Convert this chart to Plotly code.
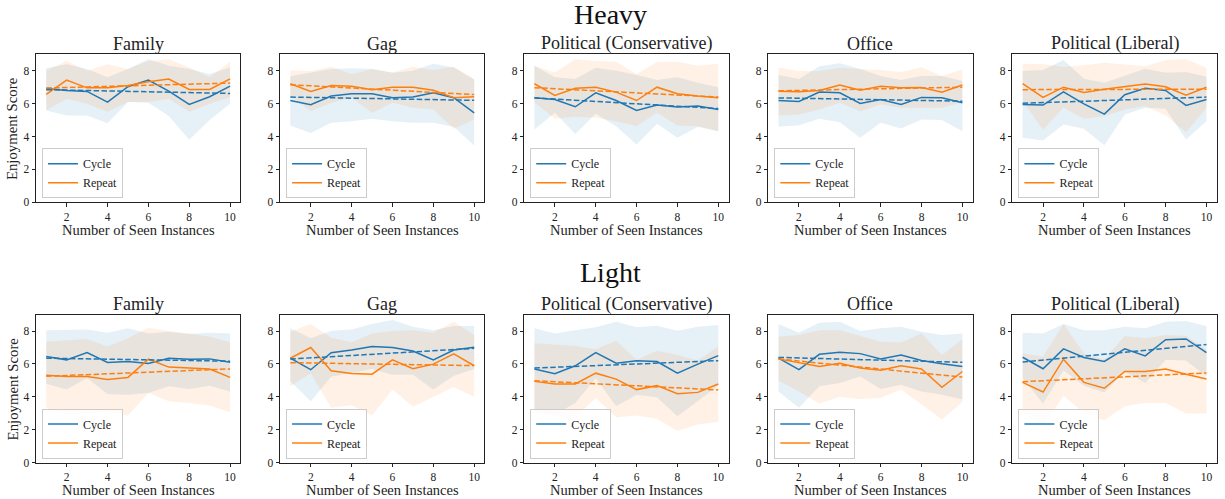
import plotly.graph_objects as go

# ---------------- data ----------------
categories = ["Family", "Gag", "Political (Conservative)", "Office", "Political (Liberal)"]
row_titles = ["Heavy", "Light"]
instances = [1, 2, 3, 4, 5, 6, 7, 8, 9, 10]
x_tick_vals = [2, 4, 6, 8, 10]
y_tick_vals = [0, 2, 4, 6, 8]
series_names = ["Cycle", "Repeat"]
x_label = "Number of Seen Instances"
y_label = "Enjoyment Score"

# Heavy row
heavy_cycle_mean = [
    [6.92, 6.80, 6.74, 6.09, 7.03, 7.43, 6.76, 5.95, 6.42, 7.07],
    [6.19, 5.93, 6.46, 6.60, 6.60, 6.36, 6.40, 6.66, 6.36, 5.44],
    [6.36, 6.25, 5.81, 6.66, 6.19, 5.58, 5.91, 5.79, 5.85, 5.64],
    [6.19, 6.13, 6.70, 6.66, 6.01, 6.25, 5.95, 6.38, 6.36, 6.05],
    [5.95, 5.91, 6.72, 5.99, 5.36, 6.54, 6.94, 6.80, 5.89, 6.25],
]
heavy_cycle_low = [
    [5.58, 5.28, 5.28, 4.80, 6.10, 6.05, 5.25, 3.80, 5.00, 6.00],
    [4.67, 4.22, 4.83, 4.93, 5.08, 4.93, 4.83, 4.83, 4.60, 3.45],
    [4.43, 5.44, 4.16, 5.38, 4.63, 3.51, 4.77, 3.92, 4.59, 4.32],
    [4.59, 4.69, 5.08, 4.87, 3.92, 4.83, 4.49, 5.04, 5.00, 4.32],
    [3.92, 3.76, 4.73, 4.47, 3.47, 5.34, 5.75, 5.69, 3.82, 4.93],
]
heavy_cycle_high = [
    [8.15, 8.40, 8.10, 7.60, 8.10, 8.70, 8.30, 8.10, 7.80, 8.20],
    [7.67, 7.90, 8.10, 8.15, 8.10, 7.88, 8.00, 8.43, 8.20, 7.47],
    [8.30, 7.60, 7.50, 8.18, 8.00, 7.74, 7.43, 7.60, 7.27, 7.00],
    [7.74, 7.50, 8.28, 8.45, 8.10, 7.68, 7.43, 7.68, 7.68, 7.37],
    [7.98, 8.04, 8.65, 7.51, 7.27, 7.68, 8.12, 7.88, 7.92, 7.63],
]
heavy_repeat_mean = [
    [6.56, 7.43, 6.96, 6.96, 7.10, 7.33, 7.50, 6.86, 6.86, 7.51],
    [7.21, 6.74, 7.10, 7.05, 6.84, 7.00, 7.00, 6.82, 6.36, 6.42],
    [7.21, 6.50, 6.94, 7.00, 6.70, 6.19, 7.00, 6.60, 6.46, 6.36],
    [6.76, 6.72, 6.80, 7.13, 6.82, 7.05, 6.96, 6.98, 6.70, 7.13],
    [7.21, 6.38, 7.00, 6.68, 6.88, 7.03, 7.19, 7.03, 6.52, 7.00],
]
heavy_repeat_low = [
    [5.60, 6.30, 6.00, 5.50, 6.10, 6.10, 6.30, 5.50, 6.00, 6.40],
    [6.46, 5.54, 6.05, 6.36, 5.44, 6.05, 5.75, 5.64, 4.47, 5.04],
    [6.09, 5.08, 5.20, 5.14, 4.93, 4.63, 5.44, 4.67, 4.63, 4.32],
    [5.28, 5.34, 5.64, 6.05, 5.54, 5.95, 5.75, 5.75, 5.75, 6.09],
    [6.15, 4.43, 5.75, 5.08, 5.24, 5.64, 5.85, 5.28, 4.26, 5.75],
]
heavy_repeat_high = [
    [8.00, 8.60, 8.00, 8.40, 8.10, 8.60, 8.70, 8.20, 7.60, 8.55],
    [8.02, 7.98, 8.24, 7.78, 8.10, 7.90, 8.24, 8.04, 8.24, 7.50],
    [8.30, 7.90, 8.70, 8.60, 8.55, 7.78, 8.53, 8.55, 8.30, 8.43],
    [8.18, 7.98, 7.98, 8.18, 8.10, 8.04, 7.92, 8.22, 7.68, 8.08],
    [8.43, 8.39, 8.24, 8.33, 8.49, 8.39, 8.28, 8.65, 8.70, 8.18],
]
heavy_cycle_trend = [[6.85, 6.62], [6.40, 6.20], [6.35, 5.70], [6.35, 6.15], [6.02, 6.40]]
heavy_repeat_trend = [[6.95, 7.25], [7.15, 6.55], [6.97, 6.40], [6.78, 7.00], [6.85, 6.88]]

# Light row
light_cycle_mean = [
    [6.45, 6.25, 6.69, 6.09, 6.15, 6.03, 6.35, 6.29, 6.31, 6.11],
    [6.35, 5.65, 6.69, 6.85, 7.06, 7.00, 6.79, 6.25, 6.85, 7.02],
    [5.69, 5.40, 5.89, 6.69, 6.05, 6.19, 6.15, 5.44, 5.99, 6.51],
    [6.35, 5.65, 6.59, 6.71, 6.63, 6.31, 6.55, 6.21, 6.01, 5.85],
    [6.41, 5.71, 6.92, 6.39, 6.15, 6.92, 6.49, 7.48, 7.52, 6.69],
]
light_cycle_low = [
    [4.80, 4.44, 5.14, 4.17, 4.13, 4.23, 4.64, 4.48, 4.68, 4.33],
    [4.94, 3.73, 5.24, 5.44, 5.69, 5.34, 5.34, 4.44, 5.28, 5.69],
    [3.17, 2.92, 3.63, 5.14, 3.43, 4.13, 3.97, 2.82, 3.73, 4.68],
    [4.33, 3.33, 4.64, 4.84, 5.24, 4.48, 4.74, 4.33, 4.13, 3.83],
    [5.14, 3.59, 5.60, 4.68, 4.27, 5.54, 4.84, 6.25, 6.21, 5.24],
]
light_cycle_high = [
    [8.06, 8.06, 8.10, 7.90, 8.17, 7.86, 7.96, 7.82, 7.90, 7.86],
    [8.17, 7.56, 8.02, 8.10, 8.43, 8.67, 8.27, 8.06, 8.31, 8.31],
    [8.17, 7.86, 8.06, 8.23, 8.57, 8.23, 8.33, 8.02, 8.27, 8.37],
    [8.43, 7.90, 8.51, 8.57, 8.00, 8.17, 8.27, 7.96, 7.76, 7.86],
    [7.90, 7.86, 8.43, 8.06, 8.06, 8.27, 8.17, 8.57, 8.61, 8.31],
]
light_repeat_mean = [
    [5.32, 5.24, 5.24, 5.06, 5.18, 6.29, 5.81, 5.75, 5.69, 5.18],
    [6.35, 7.00, 5.58, 5.42, 5.38, 6.25, 5.71, 5.99, 6.61, 5.89],
    [4.94, 4.78, 4.78, 5.44, 5.08, 4.44, 4.68, 4.19, 4.27, 4.78],
    [6.31, 6.09, 5.85, 6.05, 5.75, 5.62, 5.89, 5.69, 4.58, 5.54],
    [4.88, 4.29, 6.29, 4.88, 4.52, 5.54, 5.54, 5.69, 5.38, 5.08],
]
light_repeat_low = [
    [3.33, 2.92, 3.02, 3.06, 2.86, 4.23, 3.73, 3.63, 3.47, 3.06],
    [4.64, 5.44, 3.33, 3.49, 2.86, 4.44, 3.39, 3.99, 4.60, 3.99],
    [3.02, 2.82, 2.78, 3.93, 2.76, 2.86, 2.66, 1.92, 2.32, 2.48],
    [5.00, 4.33, 3.59, 3.99, 3.87, 3.93, 4.44, 3.53, 2.62, 3.67],
    [3.02, 2.22, 4.07, 3.02, 2.58, 3.43, 3.63, 3.63, 2.98, 2.98],
]
light_repeat_high = [
    [7.36, 7.46, 7.52, 7.06, 7.56, 8.21, 8.00, 7.86, 7.66, 7.32],
    [7.96, 8.43, 7.60, 7.32, 7.86, 8.00, 8.06, 7.90, 8.57, 7.76],
    [7.26, 7.20, 7.10, 6.90, 7.42, 6.25, 6.81, 6.55, 6.21, 7.06],
    [7.66, 7.76, 8.06, 8.06, 7.70, 7.36, 7.30, 7.86, 6.55, 7.50],
    [6.65, 6.45, 8.43, 6.65, 6.29, 7.70, 7.56, 7.76, 7.70, 6.90],
]
light_cycle_trend = [[6.35, 6.17], [6.30, 6.95], [5.75, 6.20], [6.40, 6.10], [6.12, 7.18]]
light_repeat_trend = [[5.25, 5.70], [6.08, 5.90], [4.98, 4.42], [6.30, 5.20], [4.92, 5.45]]

# ---------------- styling ----------------
FONT = "Liberation Serif"
W, H = 1225, 499
BLUE = "#1f77b4"
ORANGE = "#ff7f0e"
BLUE_FILL = "rgba(31,119,180,0.11)"
ORANGE_FILL = "rgba(255,127,14,0.11)"

ax_left0 = 36.0
ax_step = 244.1
ax_w = 204.3
row_tops = [54.3, 314.7]
row_bottoms = [202.3, 462.5]

fig = go.Figure()
annotations = []

rows_data = [
    (heavy_cycle_mean, heavy_cycle_low, heavy_cycle_high, heavy_repeat_mean,
     heavy_repeat_low, heavy_repeat_high, heavy_cycle_trend, heavy_repeat_trend),
    (light_cycle_mean, light_cycle_low, light_cycle_high, light_repeat_mean,
     light_repeat_low, light_repeat_high, light_cycle_trend, light_repeat_trend),
]

layout_axes = {}
k = 0
for r in range(2):
    cm, cl, ch, rm, rl, rh, ct, rt = rows_data[r]
    y0 = 1 - row_bottoms[r] / H
    y1 = 1 - row_tops[r] / H
    for c in range(5):
        k += 1
        xa = "x" if k == 1 else f"x{k}"
        ya = "y" if k == 1 else f"y{k}"
        lg = "legend" if k == 1 else f"legend{k}"
        left = ax_left0 + c * ax_step
        x0 = left / W
        x1 = (left + ax_w) / W

        # bands
        for lo, hi, col in ((cl[c], ch[c], BLUE_FILL), (rl[c], rh[c], ORANGE_FILL)):
            fig.add_trace(go.Scatter(
                x=instances + instances[::-1], y=hi + lo[::-1], fill="toself",
                fillcolor=col, line=dict(width=0), mode="lines", hoverinfo="skip",
                showlegend=False, xaxis=xa, yaxis=ya))
        # mean lines
        for name, vals, col in ((series_names[0], cm[c], BLUE), (series_names[1], rm[c], ORANGE)):
            fig.add_trace(go.Scatter(
                x=instances, y=vals, mode="lines", name=name,
                line=dict(color=col, width=1.5), xaxis=xa, yaxis=ya,
                legend=lg, showlegend=True))
        # trend lines
        for tr, col in ((ct[c], BLUE), (rt[c], ORANGE)):
            fig.add_trace(go.Scatter(
                x=[instances[0], instances[-1]], y=tr, mode="lines",
                line=dict(color=col, width=1.5, dash="5.5px,2.4px"),
                showlegend=False, xaxis=xa, yaxis=ya))

        common = dict(showline=True, mirror=True, linecolor="#222", linewidth=1,
                      ticks="outside", ticklen=3.5, tickwidth=0.8, tickcolor="#222",
                      showgrid=False, zeroline=False, automargin=False,
                      tickfont=dict(family=FONT, size=11.5, color="#222"))
        layout_axes["xaxis" if k == 1 else f"xaxis{k}"] = dict(
            domain=[x0, x1], range=[0.5, 10.5], tickvals=x_tick_vals,
            anchor=ya, **common)
        layout_axes["yaxis" if k == 1 else f"yaxis{k}"] = dict(
            domain=[y0, y1], range=[0, 9], tickvals=y_tick_vals,
            anchor=xa, **common)

        layout_axes[lg] = dict(
            x=(left + 6.0) / W, y=1 - (row_bottoms[r] - 4.0) / H,
            xanchor="left", yanchor="bottom",
            bgcolor="rgba(255,255,255,0.85)", bordercolor="#cccccc", borderwidth=1,
            font=dict(family=FONT, size=12, color="#222"),
            tracegroupgap=0, itemwidth=30)

        # subplot title
        annotations.append(dict(
            text=categories[c], x=(left + ax_w / 2) / W, y=1 - (row_tops[r] - 10.6) / H,
            xref="paper", yref="paper", xanchor="center", yanchor="middle",
            showarrow=False, font=dict(family=FONT, size=18, color="#222")))
        # x axis title
        annotations.append(dict(
            text=x_label, x=(left + ax_w / 2) / W, y=1 - (row_bottoms[r] + 27.5) / H,
            xref="paper", yref="paper", xanchor="center", yanchor="middle",
            showarrow=False, font=dict(family=FONT, size=14.5, color="#222")))
        if c == 0:
            annotations.append(dict(
                text=y_label, x=12.8 / W, y=1 - ((row_tops[r] + row_bottoms[r]) / 2) / H,
                xref="paper", yref="paper", xanchor="center", yanchor="middle",
                textangle=-90, showarrow=False,
                font=dict(family=FONT, size=14.8, color="#222")))

for r, t in enumerate(row_titles):
    annotations.append(dict(
        text=t, x=610 / W, y=1 - (14 + r * 258) / H, xref="paper", yref="paper",
        xanchor="center", yanchor="middle", showarrow=False,
        font=dict(family=FONT, size=28, color="#111")))

fig.update_layout(
    width=W, height=H, margin=dict(l=0, r=0, t=0, b=0, autoexpand=False),
    paper_bgcolor="white", plot_bgcolor="white",
    annotations=annotations, **layout_axes)

fig.write_html("out.html",
               config={"displayModeBar": False},
               post_script="document.body.style.margin='0px';document.body.style.overflow='hidden';")
